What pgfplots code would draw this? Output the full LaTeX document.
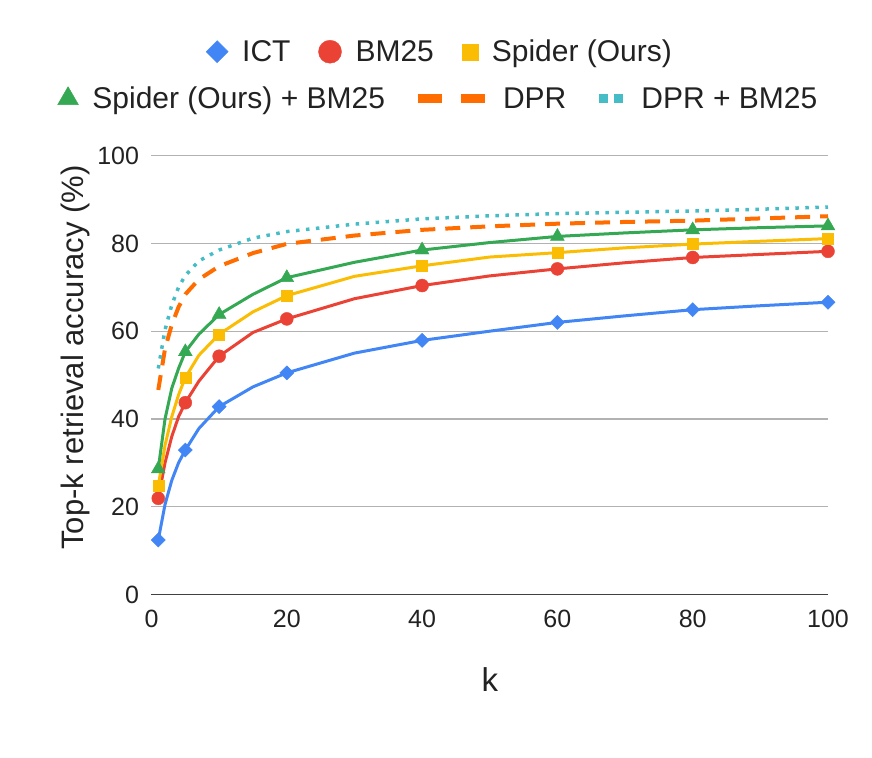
\documentclass[border=0pt]{standalone}
\usepackage{fontspec}
\setmainfont{Liberation Sans}
\usepackage{pgfplots}
\pgfplotsset{compat=1.18}
\definecolor{cICT}{HTML}{4285F4}
\definecolor{cBM}{HTML}{EA4335}
\definecolor{cSP}{HTML}{FBBC04}
\definecolor{cSPB}{HTML}{34A853}
\definecolor{cDPR}{HTML}{FF6D01}
\definecolor{cDPRB}{HTML}{46BDC6}
\definecolor{ctext}{HTML}{222222}
\pgfplotsset{
  dprleg/.style={legend image code/.code={\draw[##1] (0bp,0bp) -- (67bp,0bp);}},
  dprbleg/.style={legend image code/.code={\draw[##1] (0bp,0bp) -- (24bp,0bp);}},
}
\begin{document}
\begin{tikzpicture}
\useasboundingbox (-151.5bp,-163.6bp) rectangle (720.5bp,594.4bp);
\begin{axis}[
  width=676.5bp, height=438.7bp, scale only axis,
  xmin=0, xmax=100, ymin=0, ymax=100,
  xtick={0,20,...,100}, ytick={0,20,...,100},
  clip=false,
  axis x line*=bottom, axis y line*=left,
  x axis line style={draw=black!75, line width=1.8bp, -},
  y axis line style={draw=none},
  major tick length=0pt,
  ymajorgrids, grid style={draw=black!30, line width=1.2bp},
  /pgf/number format/assume math mode=true,
  tick label style={font=\fontsize{25bp}{30bp}\selectfont, text=ctext},
  yticklabel style={xshift=-9bp},
  xticklabel style={yshift=-12bp},
  xlabel={k}, ylabel={Top-k retrieval accuracy (\%)},
  xlabel style={at={(axis description cs:0.5,-0.195)}, anchor=center, font=\fontsize{33bp}{38bp}\selectfont, text=ctext},
  ylabel style={at={(axis description cs:-0.113,0.54)}, anchor=center, font=\fontsize{31bp}{36bp}\selectfont, text=ctext},
]
% ICT
\addplot[cICT, line width=3bp] coordinates {(1,12.4)(2,20.5)(3,26)(4,30)(5,32.9)(7,37.8)(10,42.8)(15,47.3)(20,50.5)(30,55)(40,57.9)(50,60)(60,62)(70,63.5)(80,64.9)(90,65.8)(100,66.6)};
\addplot[cICT, only marks, mark=square*, mark size=5bp, mark options={rotate=45}] coordinates {(1,12.4)(5,32.9)(10,42.8)(20,50.5)(40,57.9)(60,62)(80,64.9)(100,66.6)};
% BM25
\addplot[cBM, line width=3bp] coordinates {(1,21.9)(2,30)(3,36)(4,40.5)(5,43.7)(7,48.6)(10,54.3)(15,59.7)(20,62.8)(30,67.4)(40,70.4)(50,72.6)(60,74.2)(70,75.6)(80,76.8)(90,77.5)(100,78.2)};
\addplot[cBM, only marks, mark=*, mark size=6.5bp] coordinates {(1,21.9)(5,43.7)(10,54.3)(20,62.8)(40,70.4)(60,74.2)(80,76.8)(100,78.2)};
% Spider
\addplot[cSP, line width=3bp] coordinates {(1,24.7)(2,34)(3,40.5)(4,45.5)(5,49.4)(7,54.5)(10,59.3)(15,64.4)(20,68.1)(30,72.5)(40,74.9)(50,76.9)(60,77.9)(70,79)(80,79.85)(90,80.5)(100,81.1)};
\addplot[cSP, only marks, mark=square*, mark size=5.5bp] coordinates {(1,24.7)(5,49.4)(10,59.3)(20,68.1)(40,74.9)(60,77.9)(80,79.85)(100,81.1)};
% Spider + BM25
\addplot[cSPB, line width=3bp] coordinates {(1,28.6)(2,40)(3,47)(4,51.5)(5,55.3)(7,59.3)(10,63.8)(15,68.4)(20,72.2)(30,75.7)(40,78.5)(50,80.2)(60,81.6)(70,82.4)(80,83.1)(90,83.6)(100,84.0)};
\addplot[cSPB, only marks, mark=triangle*, mark size=8bp] coordinates {(1,28.6)(5,55.3)(10,63.8)(20,72.2)(40,78.5)(60,81.6)(80,83.1)(100,84.0)};
% DPR
\addplot[cDPR, line width=4bp, dash pattern=on 15bp off 10bp] coordinates {(1,46.6)(2,56)(3,61.5)(4,65.5)(5,68.4)(7,71.8)(10,74.8)(15,77.8)(20,79.9)(30,81.8)(40,83.1)(50,83.9)(60,84.5)(70,84.9)(80,85.2)(90,85.7)(100,86.2)};
% DPR + BM25
\addplot[cDPRB, line width=3.5bp, dash pattern=on 3.5bp off 6.5bp] coordinates {(1,51.5)(2,60.3)(3,66)(4,70)(5,72.7)(7,76)(10,78.5)(15,81.2)(20,82.7)(30,84.4)(40,85.6)(50,86.3)(60,86.8)(70,87.1)(80,87.4)(90,87.8)(100,88.3)};
\end{axis}
% legend row 1
\begin{axis}[
  width=676.5bp, height=438.7bp, scale only axis, hide axis,
  xmin=0, xmax=1, ymin=0, ymax=1,
  legend style={at={(0.4265,1.237)}, anchor=center, draw=none, fill=none,
    legend columns=-1, font=\fontsize{30bp}{36bp}\selectfont, text=ctext,
    /tikz/every even column/.append style={column sep=26bp},
    /tikz/every odd column/.append style={column sep=12bp}},
]
\addlegendimage{only marks, mark=square*, mark size=7.8bp, mark options={rotate=45}, cICT}
\addlegendentry{ICT}
\addlegendimage{only marks, mark=*, mark size=11.5bp, cBM}
\addlegendentry{BM25}
\addlegendimage{only marks, mark=square*, mark size=8bp, cSP}
\addlegendentry{Spider (Ours)}
\end{axis}
% legend row 2
\begin{axis}[
  width=676.5bp, height=438.7bp, scale only axis, hide axis,
  xmin=0, xmax=1, ymin=0, ymax=1,
  legend style={at={(0.4242,1.13)}, anchor=center, draw=none, fill=none,
    legend columns=-1, font=\fontsize{30bp}{36bp}\selectfont, text=ctext,
    /tikz/every even column/.append style={column sep=26bp},
    /tikz/every odd column/.append style={column sep=12bp}},
]
\addlegendimage{only marks, mark=triangle*, mark size=12bp, cSPB}
\addlegendentry{Spider (Ours) + BM25}
\addlegendimage{cDPR, line width=9bp, dash pattern=on 24bp off 19bp, dprleg}
\addlegendentry{DPR}
\addlegendimage{cDPRB, line width=9bp, dash pattern=on 9bp off 6bp, dprbleg}
\addlegendentry{DPR + BM25}
\end{axis}
\end{tikzpicture}
\end{document}
